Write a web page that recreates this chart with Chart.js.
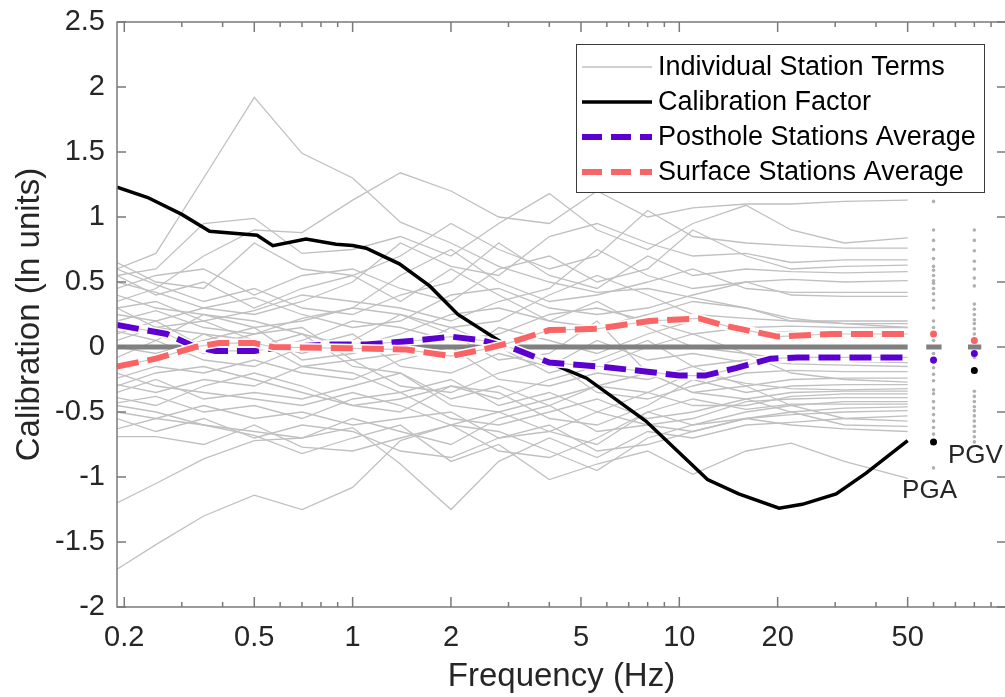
<!DOCTYPE html>
<html>
<head>
<meta charset="utf-8">
<script src="https://cdn.jsdelivr.net/npm/chart.js@4.4.1/dist/chart.umd.min.js"></script>
<style>
  html, body { margin: 0; padding: 0; background: #fff; overflow: hidden; }
  #wrap { width: 1010px; height: 697px; }
</style>
</head>
<body>
<div id="wrap"><canvas id="calChart" width="1010" height="697"></canvas></div>
<script>
// frequency grid (Hz) used for the individual station terms
const FREQ_GRID = [0.19, 0.25, 0.35, 0.5, 0.7, 1, 1.4, 2, 2.8, 4, 5.6, 8, 11, 16, 22, 32, 50];

// individual station terms (ln units), one row per station
const STATION_TERMS = [
    [0.6, 0.72, 1.3, 1.92, 1.49, 1.3, 0.96, 0.8, 0.62, 0.5, 0.42, 0.45, 0.38, 0.3, 0.22, 0.18, 0.15],
    [0.35, 0.45, 0.7, 0.9, 0.88, 1.13, 1.34, 1.2, 1.0, 0.95, 1.2, 1.0, 1.07, 1.1, 1.1, 1.12, 1.13],
    [0.55, 0.6, 0.95, 0.99, 0.72, 0.75, 0.85, 0.7, 0.95, 1.18, 0.9, 0.75, 0.95, 1.09, 0.9, 0.8, 0.84],
    [0.65, 0.5, 0.45, 0.8, 0.6, 0.55, 0.7, 0.95, 0.75, 0.6, 0.7, 1.05, 0.85, 0.8, 0.78, 0.76, 0.76],
    [0.5, 0.42, 0.3, 0.25, 0.35, 0.5, 0.8, 0.62, 0.55, 0.85, 0.95, 0.8, 0.7, 0.72, 0.65, 0.67, 0.67],
    [0.45, 0.55, 0.6, 0.4, 0.55, 0.6, 0.45, 0.35, 0.6, 0.7, 0.5, 0.6, 0.9, 0.7, 0.6, 0.62, 0.63],
    [0.6, 0.48, 0.35, 0.45, 0.3, 0.25, 0.4, 0.5, 0.8, 0.55, 0.45, 0.7, 0.55, 0.6, 0.58, 0.57, 0.58],
    [0.3, 0.35, 0.2, 0.28, 0.4, 0.35, 0.3, 0.2, 0.35, 0.45, 0.75, 0.55, 0.45, 0.5, 0.52, 0.5, 0.51],
    [0.4, 0.3, 0.25, 0.15, 0.2, 0.3, 0.55, 0.75, 0.5, 0.35, 0.4, 0.5, 0.6, 0.45, 0.42, 0.42, 0.42],
    [0.25, 0.2, 0.3, 0.38, 0.25, 0.15, 0.2, 0.4, 0.45, 0.3, 0.25, 0.3, 0.4, 0.5, 0.4, 0.39, 0.39],
    [0.2, 0.28, 0.15, 0.1, 0.22, 0.3, 0.25, 0.15, 0.2, 0.4, 0.55, 0.4, 0.25, 0.22, 0.2, 0.2, 0.2],
    [0.12, 0.05, 0.25, 0.2, 0.1, 0.0, 0.1, 0.25, 0.3, 0.2, 0.15, 0.25, 0.35, 0.3, 0.2, 0.18, 0.18],
    [0.05, 0.15, 0.1, -0.05, 0.05, 0.2, 0.15, 0.05, 0.1, 0.25, 0.3, 0.2, 0.1, 0.15, 0.16, 0.15, 0.15],
    [0.0, -0.05, 0.05, 0.15, -0.1, -0.05, 0.05, -0.1, 0.15, 0.05, -0.05, 0.1, 0.2, 0.1, 0.12, 0.11, 0.11],
    [-0.08, 0.05, -0.1, -0.15, 0.0, 0.1, -0.15, -0.2, -0.05, -0.15, 0.05, -0.1, -0.05, -0.12, -0.1, -0.11, -0.12],
    [-0.24, -0.15, -0.2, -0.1, -0.2, -0.25, -0.1, 0.0, -0.25, -0.3, -0.2, -0.25, -0.15, -0.1, -0.13, -0.14, -0.15],
    [-0.29, -0.35, -0.25, -0.3, -0.15, -0.1, -0.3, -0.35, -0.2, -0.1, -0.35, -0.4, -0.3, -0.2, -0.18, -0.19, -0.19],
    [-0.35, -0.25, -0.4, -0.35, -0.4, -0.3, -0.2, -0.45, -0.5, -0.4, -0.3, -0.2, -0.35, -0.3, -0.25, -0.24, -0.24],
    [-0.39, -0.45, -0.3, -0.2, -0.3, -0.45, -0.5, -0.3, -0.35, -0.55, -0.6, -0.45, -0.25, -0.35, -0.3, -0.29, -0.29],
    [-0.43, -0.38, -0.5, -0.45, -0.55, -0.4, -0.35, -0.55, -0.6, -0.5, -0.4, -0.55, -0.5, -0.4, -0.35, -0.34, -0.34],
    [-0.5, -0.55, -0.45, -0.55, -0.5, -0.6, -0.55, -0.5, -0.7, -0.65, -0.5, -0.35, -0.45, -0.45, -0.38, -0.36, -0.36],
    [-0.63, -0.55, -0.6, -0.65, -0.7, -0.55, -0.65, -0.75, -0.55, -0.45, -0.65, -0.6, -0.55, -0.42, -0.4, -0.39, -0.39],
    [-0.69, -0.69, -0.75, -0.6, -0.77, -0.8, -0.7, -0.6, -0.8, -0.85, -0.7, -0.5, -0.6, -0.5, -0.45, -0.42, -0.42],
    [-0.55, -0.65, -0.55, -0.7, -0.6, -0.65, -0.8, -0.85, -0.7, -0.6, -0.8, -0.75, -0.65, -0.55, -0.5, -0.47, -0.46],
    [-1.71, -1.52, -1.3, -1.14, -1.25, -1.08, -0.72, -0.6, -0.65, -0.8, -0.95, -0.7, -0.6, -0.55, -0.52, -0.5, -0.49],
    [-1.2, -1.05, -0.86, -0.72, -0.7, -0.62, -0.9, -1.25, -0.88, -0.7, -0.85, -0.65, -0.7, -0.6, -0.58, -0.55, -0.53],
    [-0.45, -0.5, -0.6, -0.68, -0.82, -0.7, -0.6, -0.88, -0.75, -1.02, -0.9, -0.8, -0.98, -0.8, -0.74, -0.88, -1.01],
    [0.1, 0.2, 0.0, 0.1, 0.15, -0.1, -0.05, 0.15, 0.0, -0.2, -0.1, 0.05, -0.15, -0.3, -0.45, -0.55, -0.57],
    [0.3, 0.15, 0.2, 0.05, -0.05, 0.05, 0.25, 0.1, -0.1, -0.05, 0.2, -0.2, -0.35, -0.4, -0.5, -0.6, -0.61],
    [-0.15, -0.1, 0.1, 0.05, -0.15, -0.2, -0.35, -0.25, -0.45, -0.35, -0.5, -0.6, -0.65, -0.55, -0.6, -0.63, -0.65],
    [0.55, 0.4, 0.5, 0.3, 0.45, 0.55, 0.35, 0.6, 0.4, 0.2, 0.35, 0.15, 0.0, -0.05, -0.1, -0.1, -0.1],
    [-0.3, -0.2, -0.15, -0.25, -0.35, -0.45, -0.4, -0.3, -0.4, -0.25, -0.15, 0.0, 0.1, -0.05, -0.2, -0.25, -0.27],
    [0.2, 0.1, -0.05, 0.0, 0.1, -0.15, -0.2, -0.4, -0.3, -0.45, -0.3, -0.35, -0.2, -0.28, -0.32, -0.33, -0.32],
    [-0.2, -0.3, -0.35, -0.4, -0.45, -0.35, -0.45, -0.6, -0.5, -0.65, -0.75, -0.5, -0.4, -0.48, -0.44, -0.44, -0.44]
];

// calibration factor
const CAL_FREQ = [0.19, 0.236, 0.3, 0.365, 0.51, 0.57, 0.72, 0.89, 1.0, 1.1, 1.39, 1.72, 2.1, 2.8, 4.0, 5.2, 7.9, 12.2, 15.2, 20.2, 23.8, 30.2, 37.3, 50];
const CAL_VALUES = [1.23, 1.15, 1.02, 0.89, 0.86, 0.78, 0.83, 0.79, 0.78, 0.76, 0.64, 0.47, 0.25, 0.05, -0.12, -0.24, -0.57, -1.02, -1.13, -1.24, -1.21, -1.13, -0.97, -0.72];

// posthole stations average
const POST_FREQ = [0.19, 0.27, 0.33, 0.38, 0.5, 0.61, 0.87, 1.1, 1.57, 2.0, 2.5, 3.1, 4.0, 5.7, 8, 10, 12, 15, 19, 23, 50];
const POST_VALUES = [0.17, 0.1, 0.0, -0.03, -0.03, 0.0, 0.02, 0.02, 0.05, 0.08, 0.05, -0.01, -0.12, -0.15, -0.19, -0.22, -0.22, -0.16, -0.09, -0.08, -0.08];

// surface stations average
const SURF_FREQ = [0.19, 0.25, 0.33, 0.39, 0.5, 0.57, 0.98, 1.46, 2.0, 2.5, 3.0, 4.0, 5.6, 8.1, 11.5, 14, 20, 29, 50];
const SURF_VALUES = [-0.15, -0.09, 0.0, 0.03, 0.03, 0.0, -0.01, -0.02, -0.07, -0.02, 0.03, 0.13, 0.14, 0.2, 0.22, 0.16, 0.08, 0.1, 0.1];

// PGA / PGV plotted at pseudo-frequencies
const PGA_X = 60;
const PGV_X = 80;
const PGA_STATIONS = [1.12, 0.9, 0.82, 0.75, 0.68, 0.62, 0.59, 0.55, 0.51, 0.49, 0.45, 0.41, 0.36, 0.3, 0.2, 0.15, 0.1, 0.05, -0.05, -0.12, -0.16, -0.21, -0.26, -0.33, -0.36, -0.42, -0.47, -0.52, -0.57, -0.62, -0.67, -0.93];
const PGV_STATIONS = [0.9, 0.82, 0.74, 0.66, 0.6, 0.53, 0.47, 0.33, 0.29, 0.25, 0.21, 0.18, 0.14, 0.1, -0.08, -0.34, -0.38, -0.42, -0.46, -0.49, -0.53, -0.57, -0.61, -0.65, -0.69, -0.73];
const PGA_CAL = -0.73, PGA_POST = -0.10, PGA_SURF = 0.10;
const PGV_CAL = -0.18, PGV_POST = -0.05, PGV_SURF = 0.05;

const X_LABELS = [0.2, 0.5, 1, 2, 5, 10, 20, 50];
const X_MINOR = [0.3, 0.4, 0.6, 0.7, 0.8, 0.9, 3, 4, 6, 7, 8, 9, 30, 40, 60, 70, 80, 90];
const Y_TICKS = [-2, -1.5, -1, -0.5, 0, 0.5, 1, 1.5, 2, 2.5];

const colors = {
    station: '#c0c0c0',
    zero: '#808080',
    cal: '#000000',
    post: '#5c00d2',
    surf: '#fb6464',
    axis: '#7a7a7a',
    text: '#262626'
};
const FONT = "'Liberation Sans', Arial, sans-serif";

const pts = (xs, ys) => xs.map((x, i) => ({ x: x, y: ys[i] }));

const datasets = [];
STATION_TERMS.forEach(row => {
    datasets.push({ data: pts(FREQ_GRID, row), borderColor: colors.station, borderWidth: 1.3, pointRadius: 0, order: 20 });
});
datasets.push({ data: [{ x: FREQ_GRID[0], y: 0 }, { x: 50, y: 0 }], borderColor: colors.zero, borderWidth: 5, pointRadius: 0, order: 12 });
datasets.push({ data: [{ x: 57, y: 0 }, { x: 63.5, y: 0 }], borderColor: colors.zero, borderWidth: 5, pointRadius: 0, order: 12 });
datasets.push({ data: [{ x: 76.5, y: 0 }, { x: 84, y: 0 }], borderColor: colors.zero, borderWidth: 5, pointRadius: 0, order: 12 });
// station values at PGA / PGV
datasets.push({ data: PGA_STATIONS.map(v => ({ x: PGA_X, y: v })), showLine: false, pointRadius: 1.8, pointBackgroundColor: '#b0b0b0', pointBorderWidth: 0, order: 15 });
datasets.push({ data: PGV_STATIONS.map(v => ({ x: PGV_X, y: v })), showLine: false, pointRadius: 1.8, pointBackgroundColor: '#b0b0b0', pointBorderWidth: 0, order: 15 });
datasets.push({ data: pts(CAL_FREQ, CAL_VALUES), borderColor: colors.cal, borderWidth: 3.5, pointRadius: 0, order: 8 });
// averages: white halo, thin grey core, then the dashed line
[[POST_FREQ, POST_VALUES, colors.post, 6], [SURF_FREQ, SURF_VALUES, colors.surf, 4]].forEach(([fx, fy, c, o]) => {
    datasets.push({ data: pts(fx, fy), borderColor: '#ffffff', borderWidth: 9, pointRadius: 0, order: o + 1 });
    datasets.push({ data: pts(fx, fy), borderColor: '#c8c8c8', borderWidth: 1.2, pointRadius: 0, order: o + 0.5 });
    datasets.push({ data: pts(fx, fy), borderColor: c, borderWidth: 6, borderDash: [22, 9], pointRadius: 0, order: o });
});
// summary markers at PGA / PGV
datasets.push({ data: [{ x: PGA_X, y: PGA_SURF }, { x: PGV_X, y: PGV_SURF }], showLine: false, pointRadius: 3.5, pointBackgroundColor: colors.surf, pointBorderWidth: 0, order: 1 });
datasets.push({ data: [{ x: PGA_X, y: PGA_POST }, { x: PGV_X, y: PGV_POST }], showLine: false, pointRadius: 3.5, pointBackgroundColor: colors.post, pointBorderWidth: 0, order: 1 });
datasets.push({ data: [{ x: PGA_X, y: PGA_CAL }, { x: PGV_X, y: PGV_CAL }], showLine: false, pointRadius: 3.5, pointBackgroundColor: colors.cal, pointBorderWidth: 0, order: 1 });

const legendItems = [
    { label: 'Individual Station Terms', color: colors.station, width: 1.5, dash: [] },
    { label: 'Calibration Factor', color: colors.cal, width: 3.5, dash: [] },
    { label: 'Posthole Stations Average', color: colors.post, width: 6, dash: [20, 9] },
    { label: 'Surface Stations Average', color: colors.surf, width: 6, dash: [20, 9] }
];

const axesPlugin = {
    id: 'matlabAxes',
    afterDatasetsDraw(chart) {
        const { ctx, chartArea: { left, right, top, bottom }, scales: { x, y } } = chart;
        ctx.save();
        ctx.strokeStyle = colors.axis;
        ctx.lineWidth = 1.5;
        ctx.strokeRect(left, top, right - left, bottom - top);
        ctx.beginPath();
        Y_TICKS.forEach(v => {
            const py = y.getPixelForValue(v);
            ctx.moveTo(left, py); ctx.lineTo(left + 9, py);
            ctx.moveTo(right, py); ctx.lineTo(right - 9, py);
        });
        X_LABELS.forEach(v => {
            const px = x.getPixelForValue(v);
            ctx.moveTo(px, bottom); ctx.lineTo(px, bottom - 10);
            ctx.moveTo(px, top); ctx.lineTo(px, top + 10);
        });
        X_MINOR.forEach(v => {
            const px = x.getPixelForValue(v);
            ctx.moveTo(px, bottom); ctx.lineTo(px, bottom - 5);
            ctx.moveTo(px, top); ctx.lineTo(px, top + 5);
        });
        ctx.stroke();

        // PGA / PGV labels
        ctx.fillStyle = colors.text;
        ctx.font = '26px ' + FONT;
        ctx.textAlign = 'center';
        ctx.textBaseline = 'middle';
        ctx.fillText('PGA', x.getPixelForValue(PGA_X) - 4, y.getPixelForValue(-1.11));
        ctx.fillText('PGV', x.getPixelForValue(PGV_X) + 1, y.getPixelForValue(-0.84));

        // legend box
        const bx = 576, by = 44, bw = 408, bh = 148;
        ctx.fillStyle = '#ffffff';
        ctx.fillRect(bx, by, bw, bh);
        ctx.strokeStyle = '#3a3a3a';
        ctx.lineWidth = 1;
        ctx.strokeRect(bx + 0.5, by + 0.5, bw, bh);
        ctx.textAlign = 'left';
        ctx.font = '27px ' + FONT;
        legendItems.forEach((it, i) => {
            const cy = by + 23 + i * 35;
            ctx.beginPath();
            ctx.strokeStyle = it.color;
            ctx.lineWidth = it.width;
            ctx.setLineDash(it.dash);
            ctx.moveTo(582, cy); ctx.lineTo(652, cy);
            ctx.stroke();
            ctx.setLineDash([]);
            ctx.fillStyle = '#000000';
            ctx.fillText(it.label, 658, cy + 1);
        });
        ctx.restore();
    }
};

new Chart(document.getElementById('calChart').getContext('2d'), {
    type: 'line',
    data: { datasets: datasets },
    options: {
        responsive: false,
        animation: false,
        layout: { padding: { top: 22, right: 3, left: 0, bottom: 0 } },
        plugins: { legend: { display: false }, tooltip: { enabled: false } },
        elements: { line: { tension: 0, borderCapStyle: 'butt' } },
        scales: {
            x: {
                type: 'logarithmic',
                min: 0.19,
                max: 100,
                grid: { display: false, drawTicks: false },
                border: { display: false },
                afterBuildTicks: scale => { scale.ticks = X_LABELS.map(v => ({ value: v })); },
                afterFit: scale => { scale.height = 90; scale.paddingLeft = 0; scale.paddingRight = 0; },
                ticks: {
                    autoSkip: false,
                    maxRotation: 0,
                    padding: 14,
                    color: colors.text,
                    font: { family: FONT, size: 29 },
                    callback: v => String(v)
                },
                title: {
                    display: true,
                    text: 'Frequency (Hz)',
                    color: colors.text,
                    font: { family: FONT, size: 33 },
                    padding: { top: 0, bottom: 0 }
                }
            },
            y: {
                min: -2,
                max: 2.5,
                grid: { display: false, drawTicks: false },
                border: { display: false },
                afterBuildTicks: scale => { scale.ticks = Y_TICKS.map(v => ({ value: v })); },
                afterFit: scale => { scale.width = 117; scale.paddingTop = 0; scale.paddingBottom = 0; },
                ticks: {
                    padding: 12,
                    color: colors.text,
                    font: { family: FONT, size: 29 },
                    callback: v => String(v)
                },
                title: {
                    display: true,
                    text: 'Calibration (ln units)',
                    color: colors.text,
                    font: { family: FONT, size: 33 },
                    padding: { top: 10, bottom: 0 }
                }
            }
        }
    },
    plugins: [axesPlugin]
});
</script>
</body>
</html>
